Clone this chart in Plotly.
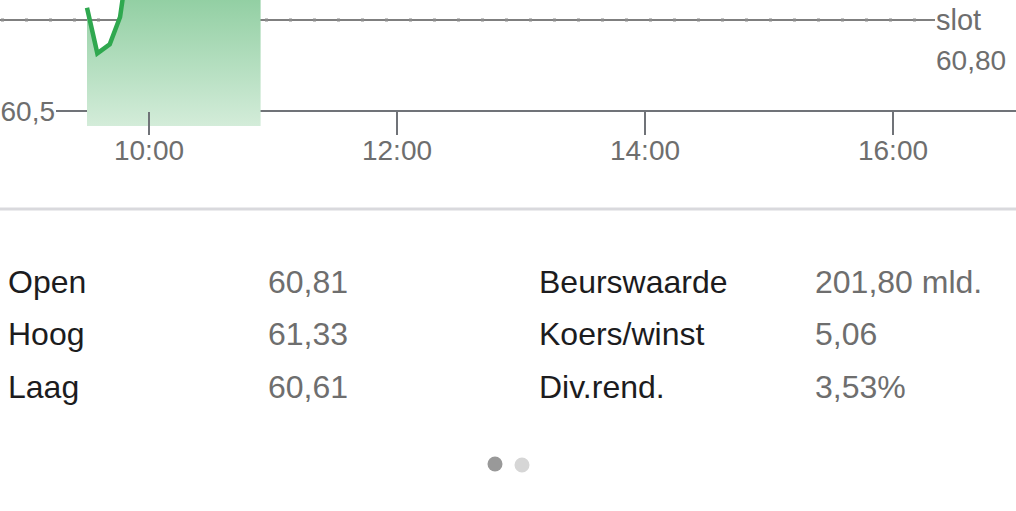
import plotly.graph_objects as go

W, H = 1016, 511

# ---- data ----
times = ["09:30", "09:35", "09:41", "09:46", "09:50", "09:55", "10:00", "10:05",
         "10:10", "10:15", "10:20", "10:25", "10:30", "10:35", "10:40", "10:45",
         "10:50", "10:54"]
prices = [60.84, 60.69, 60.72, 60.81, 61.00, 61.08, 61.15, 61.21, 61.27, 61.33,
          61.25, 61.18, 61.22, 61.15, 61.10, 61.14, 61.08, 61.05]
prev_close = 60.80
prev_close_label = "60,80"
y_tick_vals = [60.5]
y_tick_text = ["60,5"]
x_tick_times = ["10:00", "12:00", "14:00", "16:00"]

stat_labels_left = ["Open", "Hoog", "Laag"]
stat_values_left = ["60,81", "61,33", "60,61"]
stat_labels_right = ["Beurswaarde", "Koers/winst", "Div.rend."]
stat_values_right = ["201,80 mld.", "5,06", "3,53%"]

DAY = "2024-01-01 "
xs = [DAY + t for t in times]

FONT = "Liberation Sans, Arial, Helvetica, sans-serif"
GRAY_TXT = "#6e6e6e"
AXIS_GRAY = "#707378"

fig = go.Figure()

fig.add_trace(go.Scatter(
    x=xs, y=prices, mode="lines",
    line=dict(color="#2fa84f", width=4.5),
    fill="tozeroy",
    fillgradient=dict(type="vertical", start=60.45, stop=60.87,
                      colorscale=[[0, "#d3ecd9"], [1, "#92cfa3"]]),
    hoverinfo="skip", showlegend=False,
))

def px_x(p):
    return p / W

def px_y(p):
    return 1 - p / H

layout_shapes = []
# previous close reference line (solid thin black + gray dots)
layout_shapes.append(dict(type="line", xref="paper", yref="y", x0=0, x1=px_x(935),
                          y0=prev_close, y1=prev_close, layer="below",
                          line=dict(color="#000000", width=1.2)))
layout_shapes.append(dict(type="line", xref="paper", yref="y", x0=px_x(1), x1=px_x(935),
                          y0=prev_close, y1=prev_close, layer="below",
                          line=dict(color="#8a8a8a", width=3, dash="3px,21px")))
# separator
layout_shapes.append(dict(type="line", xref="paper", yref="paper", x0=0, x1=1,
                          y0=px_y(209), y1=px_y(209),
                          line=dict(color="#d9d9dd", width=3)))
# pager dots
for cx, cy, col in [(495, 464, "#999999"), (522, 465, "#d6d6d6")]:
    layout_shapes.append(dict(type="circle", xref="paper", yref="paper",
                              x0=px_x(cx - 7.5), x1=px_x(cx + 7.5),
                              y0=px_y(cy + 7.5), y1=px_y(cy - 7.5),
                              fillcolor=col, line=dict(width=0)))

annotations = [
    dict(text="slot", xref="paper", yref="paper", x=px_x(934), y=px_y(20),
         xanchor="left", yanchor="middle", showarrow=False,
         font=dict(family=FONT, size=29, color=GRAY_TXT)),
    dict(text=prev_close_label, xref="paper", yref="paper", x=px_x(934), y=px_y(60),
         xanchor="left", yanchor="middle", showarrow=False,
         font=dict(family=FONT, size=28, color=GRAY_TXT)),
]
row_y = [282, 334, 387]
for i in range(3):
    for xpos, txt, col in [(6, stat_labels_left[i], "#1c1c1e"),
                           (266, stat_values_left[i], GRAY_TXT),
                           (537, stat_labels_right[i], "#1c1c1e"),
                           (813, stat_values_right[i], GRAY_TXT)]:
        annotations.append(dict(text=txt, xref="paper", yref="paper",
                                x=px_x(xpos), y=px_y(row_y[i]),
                                xanchor="left", yanchor="middle", showarrow=False,
                                font=dict(family=FONT, size=32, color=col)))

fig.update_layout(
    width=W, height=H,
    margin=dict(l=0, r=0, t=0, b=0),
    paper_bgcolor="white", plot_bgcolor="white",
    showlegend=False,
    xaxis=dict(
        type="date",
        domain=[56 / W, 1],
        range=[DAY + "09:15", DAY + "16:59:31"],
        anchor="free", position=px_y(111),
        showgrid=False, zeroline=False, showline=False,
        tickvals=[DAY + t for t in x_tick_times], ticktext=x_tick_times,
        ticks="outside", ticklen=23, tickwidth=2, tickcolor=AXIS_GRAY,
        ticklabelstandoff=-9,
        tickfont=dict(family=FONT, size=28, color=GRAY_TXT),
        layer="above traces", fixedrange=True,
    ),
    yaxis=dict(
        domain=[px_y(126), 1],
        range=[60.4505, 60.8659],
        showgrid=True, gridcolor=AXIS_GRAY, gridwidth=2,
        zeroline=False, showline=False,
        tickvals=y_tick_vals, ticktext=y_tick_text,
        ticks="", ticklabelstandoff=0,
        tickfont=dict(family=FONT, size=28, color=GRAY_TXT),
        fixedrange=True,
    ),
    shapes=layout_shapes,
    annotations=annotations,
)

fig.write_html("out.html", config={"displayModeBar": False},
               post_script="document.body.style.margin='0';document.body.style.overflow='hidden';")
